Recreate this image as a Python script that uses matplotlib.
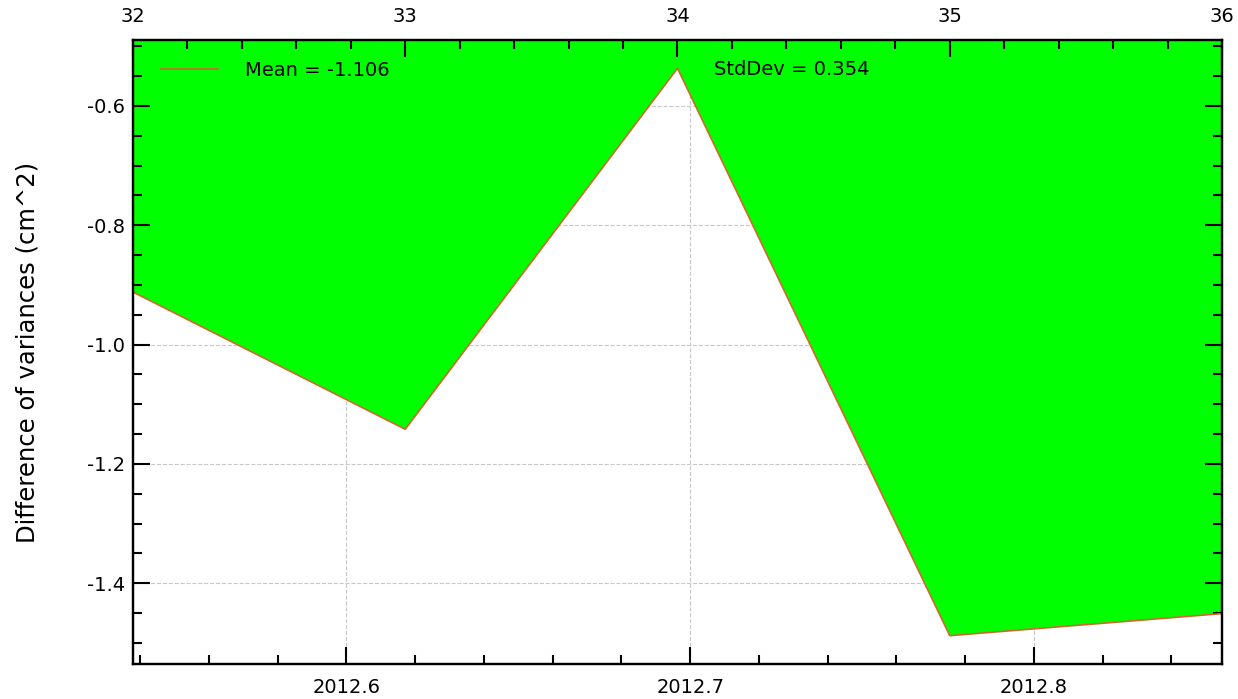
import numpy as np
import matplotlib
matplotlib.use('Agg')
import matplotlib.pyplot as plt
from matplotlib.ticker import MultipleLocator

# decimal year of each sample and the matching week number on the top axis
years = [2012.5379, 2012.6171, 2012.6963, 2012.7755, 2012.8547]
weeks = [32, 33, 34, 35, 36]
diff_var = [-0.912, -1.142, -0.537, -1.488, -1.451]

FILL = '#00ff00'
LINE = '#cf6a2c'
GRID = '#c8c8c8'

plt.rcParams['font.family'] = 'DejaVu Sans'
plt.rcParams['font.size'] = 14

x = np.array(years)
y = np.array(diff_var)
mean = y.mean()
std = y.std()

fig = plt.figure(figsize=(12.38, 6.99), dpi=100)
ax = fig.add_axes([0.1074, 0.050, 0.8797, 0.8928])

span = y.max() - y.min()
ymin, ymax = y.min() - 0.05 * span, y.max() + 0.05 * span
ax.set_xlim(x[0], x[-1])
ax.set_ylim(ymin, ymax)

ax.xaxis.set_major_locator(MultipleLocator(0.1))
ax.xaxis.set_minor_locator(MultipleLocator(0.02))
ax.yaxis.set_major_locator(MultipleLocator(0.2))
ax.yaxis.set_minor_locator(MultipleLocator(0.05))
ax.xaxis.set_major_formatter(plt.FuncFormatter(lambda v, p: f'{v:.1f}'))
ax.yaxis.set_major_formatter(plt.FuncFormatter(lambda v, p: f'{v:.1f}'))

# dashed grid kept underneath the green fill
for t in ax.get_xticks():
    if x[0] < t < x[-1]:
        ax.axvline(t, color=GRID, ls='--', lw=0.8, zorder=0.5)
for t in ax.get_yticks():
    if ymin < t < ymax:
        ax.axhline(t, color=GRID, ls='--', lw=0.8, zorder=0.5)

ax.fill_between(x, y, ymax + 1, color=FILL, lw=0, zorder=1)
ax.plot(x, y, color=LINE, lw=1.2, zorder=2, label=f'Mean = {mean:.3f}')

ax.tick_params(which='both', direction='in', top=False, right=True, width=1.5)
ax.tick_params(which='major', length=12)
ax.tick_params(which='minor', length=6.5)
ax.tick_params(axis='x', which='major', pad=10)
ax.tick_params(axis='y', which='major', pad=6)
for s in ax.spines.values():
    s.set_linewidth(1.6)

ax.set_ylabel('Difference of variances (cm^2)', fontsize=17.5, labelpad=34)

# week numbers along the top
top = ax.twiny()
top.set_xlim(weeks[0], weeks[-1])
top.xaxis.set_major_locator(MultipleLocator(1))
top.xaxis.set_minor_locator(MultipleLocator(0.2))
top.tick_params(which='both', direction='in', width=1.5)
top.tick_params(which='major', length=12, pad=10)
top.tick_params(which='minor', length=6.5)
for s in top.spines.values():
    s.set_linewidth(1.6)

ax.legend(loc='upper left', bbox_to_anchor=(0.01, 0.995), frameon=False,
          handlelength=2.9, handletextpad=1.4, fontsize=14)
ax.text(0.5335, 0.952, f'StdDev = {std:.3f}', transform=ax.transAxes,
        ha='left', va='center', fontsize=14, zorder=5)

fig.savefig('out.png', dpi=100)
